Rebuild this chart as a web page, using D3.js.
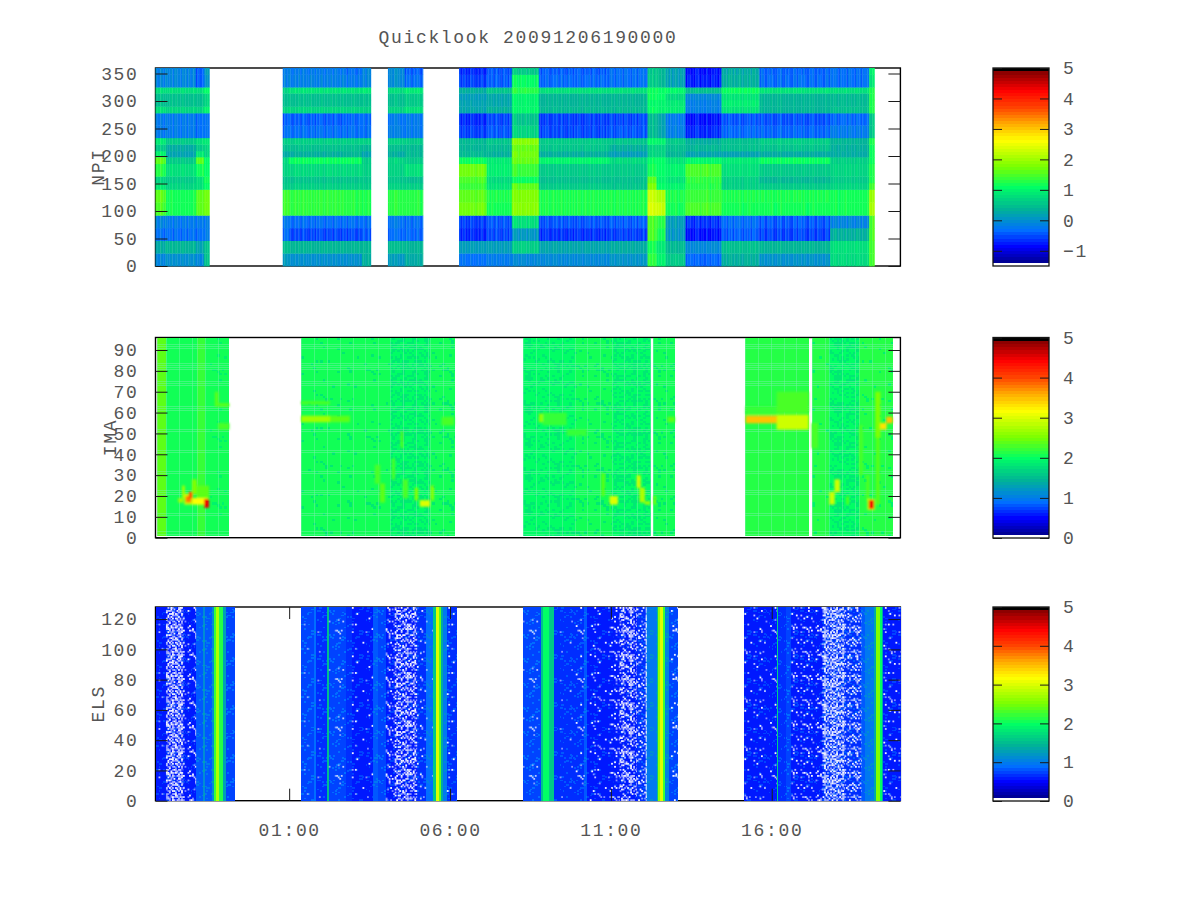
<!DOCTYPE html>
<html>
<head>
<meta charset="utf-8">
<title>Quicklook 20091206190000</title>
<script src="https://cdn.jsdelivr.net/npm/d3@7"></script>
<style>
  html, body { margin: 0; padding: 0; background: #fff; }
  text { font-family: "Liberation Mono", monospace; font-size: 18px; fill: #555; letter-spacing: 1.65px; }
  .axis path { display: none; }
  .axis line { stroke: #1a1a1a; stroke-width: 1; }
</style>
</head>
<body>
<svg id="chart" width="1200" height="900">
  <defs>
    <filter id="soft" x="-5%" y="-5%" width="110%" height="110%"><feGaussianBlur stdDeviation="0.55"></feGaussianBlur></filter>
    <filter id="softer" x="-5%" y="-5%" width="110%" height="110%"><feGaussianBlur stdDeviation="0.9"></feGaussianBlur></filter>
  </defs>
</svg>
<script>
// times are hours relative to 00:00 of the plotted day
var xTicks = [1, 6, 11, 16];
var xTickLabels = ['01:00', '06:00', '11:00', '16:00'];

var npiTicks = [0, 50, 100, 150, 200, 250, 300, 350];
var imaTicks = [0, 10, 20, 30, 40, 50, 60, 70, 80, 90];
var elsTicks = [0, 20, 40, 60, 80, 100, 120];

var npiBarTicks = [-1, 0, 1, 2, 3, 4, 5];
var barTicks = [0, 1, 2, 3, 4, 5];

// NPI: time columns, sector bands, one list of log counts per column (null = no data)
var npiEdges = [-3.155, -2.83, -1.90, -1.65, -1.48, 0.80, 0.99, 2.73, 3.26, 3.54, 4.07, 4.59, 5.16, 6.28,
  7.14, 7.92, 8.76, 10.96, 12.14, 12.42, 12.70, 13.32, 14.44, 15.62, 17.82, 19.03, 19.19];
var npiBands = [0, 23, 46, 69, 92, 116, 139, 151, 163, 186, 198, 209, 221, 233, 256, 278, 290, 302, 314, 325, 348, 360];
var npiLevels = [
  [-.1, .3, -.3, -.1, 1.5, 1.6, .9, .7, 1.3, 1.6, 1.0, .6, .9, -.2, -.2, .8, .5, .5, .8, -.1, -.1],
  [0, .4, -.3, -.2, 1.2, 1.2, .7, .6, .8, .6, .2, .3, .6, -.2, -.2, .7, .5, .5, .8, -.1, -.1],
  [-.1, .2, -.3, -.2, 1.6, 1.6, .8, .8, 1.2, 1.6, .9, .6, .8, -.3, -.3, .7, .5, .5, .8, -.4, -.4],
  [.5, .5, -.2, -.2, 1.7, 1.7, 1.1, 1.2, 1.1, 1.1, .7, .7, .9, -.25, -.25, 1.0, .7, .7, 1.1, 0, .1],
  null,
  [.1, .5, -.3, -.2, 1.45, 1.45, .6, .55, .7, .75, .3, .5, .65, -.3, -.4, .7, .5, .5, .7, -.1, -.15],
  [0, .4, -.5, -.3, 1.35, 1.35, .65, .55, .75, 1.15, .35, .5, .65, -.3, -.4, .7, .5, .5, .85, -.15, -.2],
  [0, .4, -.5, -.3, 1.3, 1.3, .65, .55, .75, 1.15, .4, .5, .65, -.3, -.35, .7, .5, .5, .85, -.2, -.3],
  [.35, .4, -.45, -.3, 1.25, 1.25, .6, .55, .65, .6, .2, .4, .65, -.3, -.35, .65, .5, .5, .9, -.1, -.1],
  null,
  [.1, .45, -.35, -.25, 1.3, 1.3, .65, .55, .65, .7, .3, .45, .65, -.2, -.25, .65, .5, .5, .75, -.05, -.05],
  [.3, .4, -.35, -.3, 1.3, 1.3, .65, .5, .8, .6, .45, .45, .6, -.2, -.2, .8, .6, .6, .9, -.3, -.4],
  null,
  [-.3, .15, -.65, -.55, 1.7, 1.6, 1.4, 1.5, 1.7, 1.15, .45, .4, .45, -.55, -.65, .25, .2, .15, .35, -.55, -.65],
  [-.2, .15, -.5, -.45, 1.2, 1.25, .85, .75, .95, .9, .35, .45, .55, -.45, -.5, .35, .25, .25, .55, -.4, -.45],
  [-.05, .65, .1, .8, 1.85, 1.8, 1.6, 1.15, 1.4, 1.65, 1.7, 1.65, 1.85, .7, .55, 1.05, 1.0, 1.0, 1.3, 1.1, .6],
  [-.05, .25, -.6, -.45, 1.25, 1.25, .6, .5, .6, 1.0, .35, .55, .6, -.5, -.55, .45, .4, .4, .8, -.35, -.4],
  [.05, .3, -.55, -.4, 1.25, 1.25, .55, .5, .6, .75, .15, .35, .55, -.45, -.5, .45, .4, .4, .8, -.3, -.3],
  [1.35, 1.2, 1.5, 1.5, 2.4, 2.3, 1.8, 1.6, 1.2, 1.1, .7, .7, 1.05, .45, .45, 1.1, 1.05, 1.15, 1.15, .6, .55],
  [1.0, .9, 1.3, 1.4, 2.3, 2.1, 1.1, 1.0, 1.1, 1.1, .7, .7, 1.0, .3, .3, 1.05, 1.05, 1.1, 1.15, .5, .5],
  [.6, .45, .1, .15, 1.2, 1.25, 1.0, .85, 1.0, .85, .4, .5, .6, -.15, -.2, .95, .9, .75, 1.05, .2, .2],
  [-.35, -.05, -.75, -.6, 1.5, 1.4, 1.3, 1.35, 1.5, 1.05, .2, .4, .35, -.65, -.75, -.15, -.15, -.05, .5, -.7, -.75],
  [.35, .5, -.4, -.3, 1.2, 1.25, .65, .65, .8, .9, .2, .5, .5, -.35, -.45, .85, .95, .85, 1.15, .35, .3],
  [.05, .4, -.5, -.4, 1.2, 1.25, .6, .45, .6, 1.15, .3, .55, .65, -.35, -.45, .4, .4, .4, .85, -.3, -.35],
  [.75, .8, .35, -.1, 1.2, 1.2, .7, .6, .7, .65, .3, .35, .4, -.2, -.35, .5, .45, .45, .8, -.3, -.3],
  [1.5, 1.5, 1.5, 1.5, 2.1, 2.0, 1.5, 1.3, 1.3, 1.2, 1.2, 1.2, 1.3, .6, .6, 1.3, 1.3, 1.3, 1.3, .9, 1.0]
];
// fine vertical striping seen across the NPI panel
var npiStreak = [.05, -.08, .02, .1, -.05, -.12, .06, 0, -.03, .09, -.1, .04, .07, -.06, .01, -.09, .08, -.02, .03, -.11];

// IMA: background level per time column and how much of it is mottled
var imaEdges = [-3.12, -2.83, -1.87, -1.62, -0.87, 1.37, 4.13, 5.37, 6.14, 8.27, 9.87, 11.02, 12.23, 12.32, 12.98,
  15.17, 17.15, 17.25, 17.79, 18.72, 19.76];
var imaLevels = [2.35, 2.1, 2.25, 2.1, null, 2.07, 2.0, 2.07, null, 2.03, 2.07, 2.02, null, 2.07, null, 2.15, null, 2.12, 2.02, 2.15];
var imaMottle = [0, 0, 0, .05, 0, .05, .4, .1, 0, .2, .1, .35, 0, .1, 0, 0, 0, .05, .35, .05];
// light energy rows of the IMA sampling grid
var imaLightRows = [2, 3, 11, 12, 21, 22, 23, 31, 32, 41, 42, 51, 52, 61, 62, 63, 73, 74, 75, 81, 82, 83, 84, 91, 92, 93];
// IMA features: start, end, energy low, energy high, level
var imaSpots = [
  [-2.45, -2.30, 17, 19, 2.7], [-2.33, -2.25, 19, 25, 2.7], [-2.02, -1.88, 21, 28, 2.5], [-1.88, -1.50, 18, 25, 2.4],
  [-2.26, -2.00, 16, 21, 2.9], [-2.00, -1.55, 16, 19, 3.2], [-2.22, -2.05, 17, 20, 3.8], [-2.12, -2.02, 19, 22, 4.0],
  [-1.64, -1.50, 14.5, 18.5, 4.5],
  [-1.31, -1.21, 63, 70, 2.4], [-1.21, -0.87, 63, 64.5, 2.4], [-1.21, -0.87, 52, 55, 2.3],
  [1.37, 2.26, 64, 65.5, 2.3], [2.26, 2.88, 55.5, 58.5, 2.35], [1.37, 2.26, 55.5, 58.5, 2.7],
  [3.66, 3.82, 26, 35, 2.3], [3.82, 3.97, 17, 26, 2.35], [4.19, 4.28, 28, 38, 2.3], [4.47, 4.53, 43, 51, 2.4],
  [4.53, 4.69, 19, 28, 2.3], [4.90, 5.00, 18, 24, 2.5], [5.40, 5.49, 18, 25, 2.6], [5.06, 5.37, 15, 18, 3.0],
  [5.74, 6.12, 54, 58, 2.3],
  [8.88, 9.62, 54, 60, 2.25], [9.62, 10.25, 49, 52, 2.2], [8.76, 8.88, 55.5, 59.5, 2.6],
  [10.71, 10.80, 20, 31, 2.4], [10.96, 11.21, 16, 20, 3.0], [11.80, 11.92, 24, 30, 2.9], [11.89, 12.05, 17, 24, 2.8],
  [12.05, 12.21, 16, 17.5, 2.7], [12.33, 12.39, 16, 20, 2.5], [12.76, 12.98, 55.5, 58, 2.4],
  [15.19, 16.15, 59, 63, 2.25], [16.15, 17.14, 60, 70, 2.28], [16.15, 17.14, 52, 59, 2.95], [15.19, 16.15, 55, 58.5, 3.5],
  [17.24, 17.43, 43, 55, 2.3], [17.79, 17.95, 16, 22, 2.9], [17.95, 18.11, 22, 28, 2.9], [18.32, 18.39, 16, 20, 2.4],
  [18.72, 18.82, 30, 54, 2.3], [18.95, 19.01, 18, 30, 2.4], [18.98, 19.19, 13.5, 18.5, 3.2], [19.02, 19.16, 14, 18, 4.5],
  [19.22, 19.37, 48, 70, 2.5], [19.25, 19.34, 16, 48, 2.35], [19.37, 19.56, 52, 55, 3.3], [19.56, 19.75, 55, 58, 3.5]
];

// ELS: one level per time column, share of empty (white) bins per column
var elsEdges = [-3.155, -2.83, -2.30, -1.90, -1.68, -1.62, -1.40, -1.34, -1.26, -1.17, -1.06, -0.97, -0.69,
  1.36, 1.77, 1.83, 2.17, 2.23, 2.76, 2.95, 3.60, 3.76, 4.00, 4.28, 4.97, 5.25, 5.46, 5.56, 5.65, 5.71, 5.77, 5.90, 6.20,
  8.26, 8.82, 8.89, 9.07, 9.22, 9.72, 10.18, 10.25, 10.96, 11.27, 11.80, 12.08, 12.11, 12.42, 12.48, 12.54, 12.62, 12.68, 12.82, 13.07,
  15.15, 16.15, 16.18, 16.43, 16.61, 17.58, 18.26, 18.79, 18.91, 19.19, 19.25, 19.37, 19.44, 19.47, 20];
var elsLevels = [.6, .6, .6, .8, 1.1, .8, 1.1, 2.2, 2.8, 2.15, 1.3, .75, null,
  .72, .88, .7, 1.5, .72, .68, .6, .85, .72, .62, .62, .7, .9, 1.6, 3.0, 2.4, 1.4, .95, .68, null,
  .78, 1.5, 2.0, 1.6, .7, .65, .8, .6, .55, .6, .65, .9, .95, 1.5, 2.6, 3.0, 2.2, 1.05, .72, null,
  .62, 1.7, .68, .78, .58, .65, .65, .8, .95, 1.4, 2.5, 2.0, 1.4, .62];
var elsWhite = [.02, .5, .12, 0, 0, 0, 0, 0, 0, 0, 0, 0, 0,
  .01, 0, .01, 0, .02, .02, .03, 0, 0, .12, .36, .05, .01, 0, 0, 0, 0, 0, .03, 0,
  .02, 0, 0, 0, .02, .03, 0, .04, .12, .36, .14, .8, 0, 0, 0, 0, 0, 0, .06, 0,
  .05, 0, 0, 0, .1, .46, .24, 0, 0, 0, 0, 0, 0, .06];

// rank tile that turns a bin share into a dither when drawing the speckle
var speckleTile = [
  '73915204861739250486917325048617',
  '28640719352086417935260847193526',
  '51973826047315982604738159260473',
  '04286159738260471593826047315982',
  '96317042851973604285197360428519',
  '37528964103752896410375289641037',
  '80142573968014257396801425739680',
  '15896320475189632047518963204751',
  '62470815936247081593624708159362',
  '49013786252490137862524901378625',
  '75268194037526819403752681940375',
  '10937462581093746258109374625810',
  '86425037198642503719864250371986',
  '23751908642375190864237519086423',
  '59084617325908461732590846173259',
  '34679201583467920158346792015834'
];

var palStops = [.015, .1, .18, .29, .4, .5, .636, .72, .8, .885, .985];
var palColors = ['#00008c', '#0000ff', '#006eff', '#00b496', '#00ff64', '#78ff00', '#ffff00', '#ffaa00', '#ff4600', '#ff0000', '#820000'];
var palette = d3.scaleLinear().domain(palStops).range(palColors);

function bandColor(f) {
  var q = Math.floor(f * 64);
  if (q <= 0) return '#fff';
  if (q >= 63) return '#000';
  return palette((q + .5) / 64);
}

function tileRank(i, j) {
  var a = speckleTile[(j + i * 5) % 16][i % 32];
  var b = speckleTile[(j * 3 + i * 7 + 5) % 16][(i * 3 + j) % 32];
  return (+a) * 10 + (+b);
}

var svg = d3.select('#chart');
var x = d3.scaleLinear().domain([-3.155, 20]).range([155.5, 900.4]);

// frame, data groups and axes of one panel
function panel(top, bottom, maxY, ticks, name, nameX) {
  var y = d3.scaleLinear().domain([0, maxY]).range([bottom, top]);
  svg.append('rect')
    .attr('x', x.range()[0]).attr('y', top)
    .attr('width', x.range()[1] - x.range()[0]).attr('height', bottom - top)
    .attr('fill', 'none').attr('stroke', '#000').attr('stroke-width', 1.4);
  var g = svg.append('g').attr('shape-rendering', 'crispEdges');
  var over = svg.append('g');
  return { y: y, g: g, over: over, top: top, bottom: bottom, ticks: ticks, name: name, nameX: nameX };
}

function finishPanel(p, showTime) {
  svg.append('g').attr('class', 'axis')
    .attr('transform', 'translate(' + x.range()[0] + ',0)')
    .call(d3.axisLeft(p.y).tickValues(p.ticks).tickSize(-12).tickPadding(17));
  svg.append('g').attr('class', 'axis')
    .attr('transform', 'translate(' + x.range()[1] + ',0)')
    .call(d3.axisRight(p.y).tickValues(p.ticks).tickSize(-12).tickFormat(''));
  svg.append('text')
    .attr('transform', 'translate(' + p.nameX + ',' + (p.y.range()[0] + p.y.range()[1]) / 2 + ') rotate(-90)')
    .attr('text-anchor', 'middle').attr('dy', '0.32em')
    .text(p.name);
  if (showTime) {
    svg.append('g').attr('class', 'axis')
      .attr('transform', 'translate(0,' + p.bottom + ')')
      .call(d3.axisBottom(x).tickValues(xTicks).tickSize(-12).tickPadding(23)
        .tickFormat(function(d, i) { return xTickLabels[i]; }));
    svg.append('g').attr('class', 'axis')
      .attr('transform', 'translate(0,' + p.top + ')')
      .call(d3.axisTop(x).tickValues(xTicks).tickSize(-12).tickFormat(''));
  }
}

function drawCells(group, y, cells, color) {
  return group.selectAll(null)
    .data(cells)
    .enter().append('rect')
    .attr('x', function(d) { return x(d.t0); })
    .attr('y', function(d) { return y(d.y1); })
    .attr('width', function(d) { return x(d.t1) - x(d.t0) + .3; })
    .attr('height', function(d) { return y(d.y0) - y(d.y1) + .3; })
    .attr('fill', color);
}

function colorbar(top, bottom, low, ticks) {
  var bar = d3.scaleLinear().domain([low, 5]).range([bottom, top]);
  var levels = d3.range(64);
  var h = (bottom - top) / 64;
  svg.append('g').attr('shape-rendering', 'crispEdges')
    .selectAll('rect').data(levels).enter().append('rect')
    .attr('x', 993).attr('width', 56)
    .attr('y', function(d) { return bottom - (d + 1) * h; })
    .attr('height', h + .4)
    .attr('fill', function(d) { return bandColor((d + .5) / 64); });
  svg.append('rect')
    .attr('x', 993).attr('y', top).attr('width', 56).attr('height', bottom - top)
    .attr('fill', 'none').attr('stroke', '#111').attr('stroke-width', 1.3);
  svg.append('g').attr('class', 'axis')
    .attr('transform', 'translate(993,0)')
    .call(d3.axisLeft(bar).tickValues(ticks).tickSize(-9).tickFormat(''));
  svg.append('g').attr('class', 'axis')
    .attr('transform', 'translate(1049,0)')
    .call(d3.axisRight(bar).tickValues(ticks).tickSize(-9).tickPadding(14)
      .tickFormat(d3.format('d')));
}

svg.append('text')
  .attr('x', 528).attr('y', 37).attr('dy', '0.32em').attr('text-anchor', 'middle')
  .text('Quicklook 20091206190000');

// --- NPI ---
var npi = panel(68, 266, 360, npiTicks, 'NPI', 98);
var npiCells = [];
npiLevels.forEach(function(col, c) {
  if (!col) return;
  d3.range(npiEdges[c], npiEdges[c + 1], .05).forEach(function(t) {
    var sx = Math.round((t + 3.155) / .05);
    col.forEach(function(v, b) {
      var amp = (b >= 13 && b <= 14) || (b >= 2 && b <= 3) || b >= 19 ? 1 : .5;
      npiCells.push({
        t0: t, t1: Math.min(t + .05, npiEdges[c + 1]),
        y0: npiBands[b], y1: npiBands[b + 1],
        v: v + npiStreak[sx % npiStreak.length] * amp
      });
    });
  });
});
drawCells(npi.over.attr('filter', 'url(#soft)'), npi.y, npiCells, function(d) { return bandColor((d.v + 1.5) / 6.5); });

// --- IMA ---
var ima = panel(337.5, 537.7, 96, imaTicks, 'IMA', 110);
var imaCells = [];
imaLevels.forEach(function(v, c) {
  if (v === null) return;
  imaCells.push({ t0: imaEdges[c], t1: imaEdges[c + 1], y0: 1, y1: 96, v: v });
  d3.range(imaEdges[c], imaEdges[c + 1], .075).forEach(function(t) {
    var i = Math.round((t + 3.12) / .075);
    d3.range(1, 96).forEach(function(e) {
      if (tileRank(i, e) < imaMottle[c] * 100) {
        imaCells.push({ t0: t, t1: Math.min(t + .075, imaEdges[c + 1]), y0: e, y1: e + 1, v: v - .2 });
      }
    });
  });
});
drawCells(ima.g, ima.y, imaCells, function(d) { return bandColor(d.v / 5); });

// light sampling grid on the IMA background
imaLevels.forEach(function(v, c) {
  if (v === null) return;
  ima.g.append('g').selectAll('rect').data(imaLightRows).enter().append('rect')
    .attr('x', x(imaEdges[c])).attr('width', x(imaEdges[c + 1]) - x(imaEdges[c]))
    .attr('y', function(e) { return ima.y(e); }).attr('height', 1)
    .attr('fill', '#7cf0b0').attr('opacity', .45);
  ima.g.append('g').selectAll('rect').data(d3.range(imaEdges[c], imaEdges[c + 1], .4)).enter().append('rect')
    .attr('x', function(t) { return x(t); }).attr('width', 1)
    .attr('y', ima.y(96)).attr('height', ima.y(1) - ima.y(96))
    .attr('fill', '#7cf0b0').attr('opacity', .45);
});
drawCells(ima.over.attr('filter', 'url(#softer)'), ima.y, imaSpots.map(function(s) {
  return { t0: s[0], t1: s[1], y0: s[2], y1: s[3], v: s[4] };
}), function(d) { return bandColor(d.v / 5); });

// --- ELS ---
var els = panel(607, 800.7, 128, elsTicks, 'ELS', 98);
var elsCells = [];
var elsDots = [];
elsLevels.forEach(function(v, c) {
  if (v === null) return;
  elsCells.push({ t0: elsEdges[c], t1: elsEdges[c + 1], y0: 0, y1: 128, v: v });
  d3.range(elsEdges[c], elsEdges[c + 1], .047).forEach(function(t) {
    var i = Math.round((t + 3.155) / .047);
    d3.range(0, 128).forEach(function(e) {
      var r = tileRank(i, e);
      var t1 = Math.min(t + .047, elsEdges[c + 1]);
      if (r < elsWhite[c] * 100) elsDots.push({ t0: t, t1: t1, y0: e, y1: e + 1, r: r });
      else if (r >= 90 && v < 1.2) elsCells.push({ t0: t, t1: t1, y0: e, y1: e + 1, v: v + .15 });
    });
  });
});
drawCells(els.g, els.y, elsCells, function(d) { return bandColor(d.v / 5); });
drawCells(els.over, els.y, elsDots, '#fff')
  .attr('opacity', function(d) { return .5 + (d.r % 3) * .22; });

finishPanel(npi, false);
finishPanel(ima, false);
finishPanel(els, true);

colorbar(68, 266, -1.5, npiBarTicks);
colorbar(337.5, 538, 0, barTicks);
colorbar(607, 801, 0, barTicks);
</script>
</body>
</html>
